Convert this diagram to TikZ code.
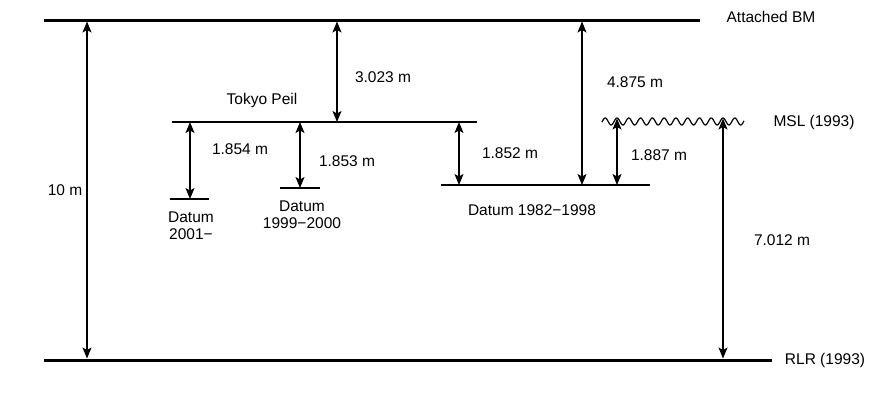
\documentclass[tikz,border=0pt]{standalone}
\usepackage{fontspec}
\setmainfont{Liberation Sans}
\usetikzlibrary{arrows.meta}

\tikzset{
  level/.style={line width=3pt},
  datum/.style={line width=1.2pt},
  dim/.style={line width=1.2pt,
    {Stealth[length=11pt,width=9pt,inset=2.5pt]}-{Stealth[length=11pt,width=9pt,inset=2.5pt]}},
  lbl/.style={inner sep=0pt,font=\fontsize{15.5}{17}\selectfont,align=center},
}

\begin{document}
\begin{tikzpicture}[x=1pt,y=-1pt]
  \useasboundingbox (0,0) rectangle (875,400);

  % reference levels
  \draw[level] (44,20) -- (700,20);
  \draw[level] (44,360) -- (772,360);
  \draw[datum] (172,122) -- (477,122);
  \draw[datum] (170,199) -- (209,199);
  \draw[datum] (280,188) -- (320,188);
  \draw[datum] (441,185) -- (650,185);
  \draw[datum,domain=602:744,samples=200,smooth]
    plot (\x,{121.5-3.5*cos((\x-617)*30.56)});

  % measured heights
  \foreach \n/\x/\ya/\yb in {ten/87/21.5/358.5, peil/337/21.5/122,
      dA/190/122/199, dB/300/122/188, dC/459/122/185,
      bm/582/21.5/185, msl/617/118.5/185, rlr/723/118.5/358.5} {
    \coordinate (\n-t) at (\x,\ya);
    \coordinate (\n-b) at (\x,\yb);
    \draw[dim] (\n-t) -- (\n-b);
  }

  % labels
  \node[lbl] (lten) at (65,190) {10 m};
  \node[lbl] (lpeil) at (383,77) {3.023 m};
  \node[lbl] (peil) at (262,100) {Tokyo Peil};
  \node[lbl] (ldA) at (240,149) {1.854 m};
  \node[lbl] (ldB) at (347,161) {1.853 m};
  \node[lbl] (ldC) at (510,153) {1.852 m};
  \node[lbl] (lbm) at (635,82) {4.875 m};
  \node[lbl] (lmsl) at (659,155) {1.887 m};
  \node[lbl] (lrlr) at (782,240) {7.012 m};
  \node[lbl] (bm) at (771,17) {Attached BM};
  \node[lbl] (msl) at (814,122) {MSL (1993)};
  \node[lbl] (rlr) at (825,360) {RLR (1993)};
  \node[lbl] (dA) at (191,225.5) {Datum\\2001−};
  \node[lbl] (dB) at (302,214.5) {Datum\\1999−2000};
  \node[lbl] (dC) at (532,210) {Datum 1982−1998};
\end{tikzpicture}
\end{document}
